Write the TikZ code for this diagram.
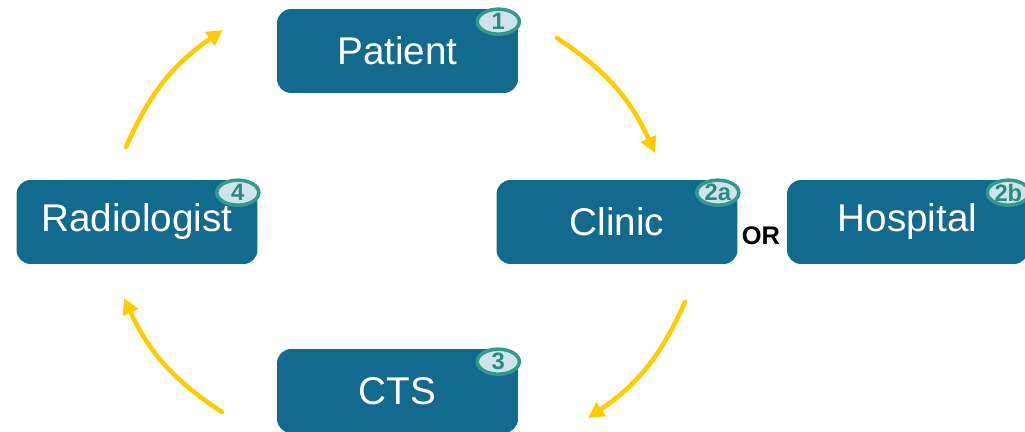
\documentclass[tikz,border=0pt]{standalone}
\usepackage{fontspec}
\setmainfont{Liberation Sans}
\usetikzlibrary{arrows.meta,shapes.geometric}
\definecolor{boxblue}{HTML}{136A8F}
\definecolor{flowyellow}{HTML}{FFCC00}
\definecolor{badgefill}{HTML}{D0E3EA}
\definecolor{badgeline}{HTML}{2E9B8C}
\definecolor{badgetext}{HTML}{2A8A80}
\begin{document}
\begin{tikzpicture}[x=0.02cm,y=-0.02cm,
  stage/.style={fill=boxblue,rounded corners=0.28cm,minimum width=4.82cm,
    minimum height=1.68cm,inner sep=0pt,text=white,
    font=\fontsize{22}{26}\selectfont},
  badge/.style={ellipse,draw=badgeline,line width=2pt,fill=badgefill,
    minimum width=0.84cm,minimum height=0.5cm,inner sep=0pt,
    text=badgetext,font=\fontsize{13.5}{14}\selectfont\bfseries,
    xshift=-0.4cm,yshift=-0.26cm},
  flow/.style={flowyellow,line width=2.6pt,line cap=round,
    -{Triangle[length=0.32cm,width=0.32cm]},bend left=16}]
  \useasboundingbox (0,0) rectangle (1025,432);
  \node[stage] (patient) at (397.5,51) {Patient};
  \node[stage] (clinic) at (617,222) {Clinic};
  \node[stage] (hospital) at (907.5,222) {Hospital};
  \node[stage] (cts) at (397.5,391) {CTS};
  \node[stage] (radiologist) at (137,222) {Radiologist};
  \node[font=\fontsize{14.5}{16}\selectfont\bfseries] (or) at (761,236) {OR};
  \node[badge] (b1) at (patient.north east) {1};
  \node[badge] (b2a) at (clinic.north east) {2a};
  \node[badge] (b2b) at (hospital.north east) {2b};
  \node[badge] (b3) at (cts.north east) {3};
  \node[badge] (b4) at (radiologist.north east) {4};
  % arrows round the cycle
  \coordinate (a1s) at (557,38);  \coordinate (a1e) at (655,153);
  \coordinate (a2s) at (685,302); \coordinate (a2e) at (588,418);
  \coordinate (a3s) at (222,412); \coordinate (a3e) at (124,298);
  \coordinate (a4s) at (126,147); \coordinate (a4e) at (223,30);
  \draw[flow] (a1s) to (a1e);
  \draw[flow] (a2s) to (a2e);
  \draw[flow] (a3s) to (a3e);
  \draw[flow] (a4s) to (a4e);
\end{tikzpicture}
\end{document}
